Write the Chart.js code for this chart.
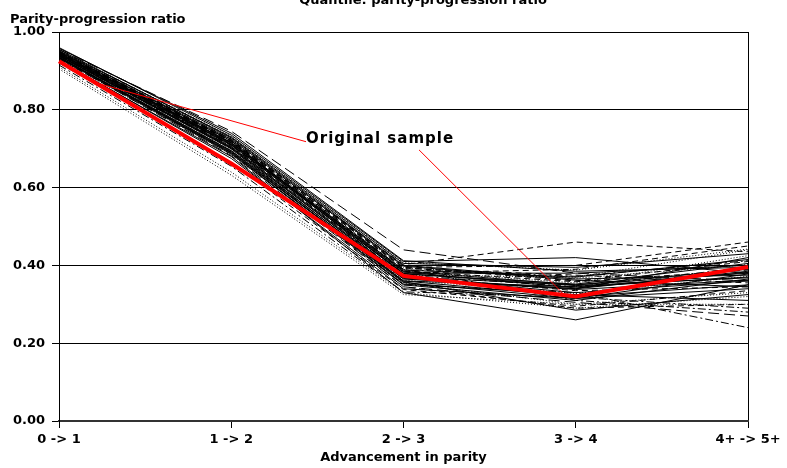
<!DOCTYPE html>
<html>
<head>
<meta charset="utf-8">
<script src="https://cdn.jsdelivr.net/npm/chart.js@4/dist/chart.umd.min.js"></script>
<style>
html,body{margin:0;padding:0;background:#fff;}
#wrap{width:787px;height:468px;}
</style>
</head>
<body>
<div id="wrap"><canvas id="c" width="787" height="468"></canvas></div>
<script>
// ---- data ----
const categories = ["0 -> 1", "1 -> 2", "2 -> 3", "3 -> 4", "4+ -> 5+"];
const yTicks = [0, 0.2, 0.4, 0.6, 0.8, 1.0];
const originalSample = [0.925, 0.662, 0.373, 0.320, 0.396];

const s01 = [0.945, 0.715, 0.385, 0.350, 0.380];
const s02 = [0.940, 0.705, 0.370, 0.330, 0.360];
const s03 = [0.950, 0.725, 0.395, 0.360, 0.410];
const s04 = [0.935, 0.690, 0.360, 0.320, 0.350];
const s05 = [0.930, 0.685, 0.355, 0.300, 0.330];
const s06 = [0.955, 0.745, 0.440, 0.380, 0.360];
const s07 = [0.945, 0.720, 0.402, 0.460, 0.435];
const s08 = [0.925, 0.680, 0.330, 0.260, 0.350];
const s09 = [0.940, 0.700, 0.350, 0.330, 0.240];
const s10 = [0.910, 0.640, 0.330, 0.290, 0.320];
const s11 = [0.905, 0.632, 0.325, 0.300, 0.300];
const s12 = [0.960, 0.735, 0.410, 0.420, 0.380];
const s13 = [0.950, 0.710, 0.380, 0.390, 0.450];
const s14 = [0.945, 0.700, 0.375, 0.370, 0.440];
const s15 = [0.935, 0.695, 0.365, 0.340, 0.420];
const s16 = [0.940, 0.710, 0.390, 0.310, 0.280];
const s17 = [0.930, 0.690, 0.345, 0.290, 0.300];
const s18 = [0.945, 0.715, 0.380, 0.380, 0.400];
const s19 = [0.950, 0.720, 0.370, 0.350, 0.390];
const s20 = [0.938, 0.700, 0.360, 0.345, 0.370];
const s21 = [0.942, 0.708, 0.372, 0.335, 0.345];
const s22 = [0.928, 0.675, 0.340, 0.315, 0.340];
const s23 = [0.948, 0.718, 0.395, 0.400, 0.460];
const s24 = [0.935, 0.688, 0.352, 0.325, 0.310];
const s25 = [0.955, 0.728, 0.400, 0.365, 0.375];
const s26 = [0.932, 0.682, 0.345, 0.305, 0.270];
const s27 = [0.944, 0.712, 0.385, 0.355, 0.425];
const s28 = [0.939, 0.702, 0.368, 0.340, 0.385];
const s29 = [0.946, 0.722, 0.392, 0.375, 0.355];
const s30 = [0.936, 0.694, 0.358, 0.285, 0.325];
const s31 = [0.952, 0.730, 0.405, 0.395, 0.430];
const s32 = [0.941, 0.706, 0.375, 0.345, 0.395];
const s33 = [0.933, 0.686, 0.350, 0.310, 0.365];
const s34 = [0.947, 0.716, 0.388, 0.370, 0.415];
const s35 = [0.920, 0.665, 0.338, 0.295, 0.335];
const s36 = [0.958, 0.740, 0.412, 0.385, 0.395];
const s37 = [0.937, 0.698, 0.362, 0.328, 0.372];
const s38 = [0.943, 0.711, 0.378, 0.352, 0.405];
const s39 = [0.915, 0.655, 0.332, 0.318, 0.290];
const s40 = [0.949, 0.724, 0.398, 0.362, 0.345];
const s41 = [0.944, 0.713, 0.383, 0.342, 0.382];
const s42 = [0.951, 0.727, 0.394, 0.367, 0.402];
const s43 = [0.939, 0.703, 0.366, 0.338, 0.362];
const s44 = [0.946, 0.719, 0.386, 0.358, 0.388];
const s45 = [0.953, 0.732, 0.407, 0.388, 0.442];
const s46 = [0.934, 0.692, 0.356, 0.315, 0.378];
const s47 = [0.942, 0.709, 0.379, 0.348, 0.368];
const s48 = [0.948, 0.721, 0.389, 0.372, 0.412];

const bootstrapSeries = [s01,s02,s03,s04,s05,s06,s07,s08,s09,s10,s11,s12,s13,s14,s15,s16,s17,s18,s19,s20,
                         s21,s22,s23,s24,s25,s26,s27,s28,s29,s30,s31,s32,s33,s34,s35,s36,s37,s38,s39,s40,
                         s41,s42,s43,s44,s45,s46,s47,s48];
// line style per bootstrap series: 0 solid, 1 dashed, 2 dotted, 3 dash-dot, 4 long dash
const seriesStyle = [0,0,1,0,2,4,1,0,3,2,2,0,1,2,0,3,1,0,0,0,
                     1,0,1,0,0,4,2,0,1,0,0,3,0,0,1,0,2,0,3,0,
                     0,2,0,1,2,0,0,3];

// callout: label anchor and pointer lines, in data units (category index, value)
const calloutLabel = "Original sample";
const calloutText = [1.434, 0.725];
const calloutLine1 = [[1.434, 0.718], [0.209, 0.870]];
const calloutLine2 = [[2.09, 0.697], [2.93, 0.326]];

// ---- chart ----
const dashes = [[], [6,4], [1,2], [8,3,2,3], [11,5]];
const FONT = "'DejaVu Sans', sans-serif";

const datasets = [{
  label: "Original sample",
  data: originalSample,
  borderColor: "#ff0000",
  borderWidth: 4,
  pointRadius: 0,
  tension: 0,
  order: -1
}];
bootstrapSeries.forEach((s, i) => {
  datasets.push({
    label: "q" + (i + 1),
    data: s,
    borderColor: "#000",
    borderWidth: 1,
    borderDash: dashes[seriesStyle[i]],
    pointRadius: 0,
    tension: 0,
    order: 0
  });
});

const textPlugin = {
  id: "texts",
  afterDatasetsDraw(chart) {
    const ctx = chart.ctx;
    const xs = chart.scales.x, ys = chart.scales.y;
    const ca = chart.chartArea;
    ctx.save();
    // callout lines
    ctx.strokeStyle = "#ff0000";
    ctx.lineWidth = 1;
    [calloutLine1, calloutLine2].forEach(l => {
      ctx.beginPath();
      ctx.moveTo(xs.getPixelForValue(l[0][0]), ys.getPixelForValue(l[0][1]));
      ctx.lineTo(xs.getPixelForValue(l[1][0]), ys.getPixelForValue(l[1][1]));
      ctx.stroke();
    });
    // callout label
    ctx.fillStyle = "#000";
    ctx.font = "bold 15px " + FONT;
    try { ctx.letterSpacing = "1px"; } catch (e) {}
    ctx.textAlign = "left";
    ctx.textBaseline = "middle";
    ctx.fillText(calloutLabel, xs.getPixelForValue(calloutText[0]), ys.getPixelForValue(calloutText[1]));
    try { ctx.letterSpacing = "0px"; } catch (e) {}
    // titles
    ctx.font = "bold 13px " + FONT;
    ctx.textAlign = "center";
    ctx.textBaseline = "alphabetic";
    ctx.fillText("Quantile: parity-progression ratio", 423, 4);
    ctx.textAlign = "left";
    ctx.fillText("Parity-progression ratio", 10, 23);
    ctx.textAlign = "center";
    ctx.fillText("Advancement in parity", (ca.left + ca.right) / 2, 461);
    ctx.restore();
  }
};

new Chart(document.getElementById("c"), {
  type: "line",
  data: { labels: categories, datasets },
  options: {
    responsive: false,
    animation: false,
    events: [],
    layout: { padding: { top: 32, right: 39, left: 0, bottom: 0 } },
    plugins: { legend: { display: false }, title: { display: false }, tooltip: { enabled: false } },
    scales: {
      x: {
        type: "category",
        offset: false,
        afterFit(scale) { scale.height = 47; },
        border: { display: true, color: "#333", width: 2 },
        grid: {
          drawOnChartArea: true,
          color: c => (c.index === categories.length - 1 ? "#000" : "rgba(0,0,0,0)"),
          tickColor: "#000",
          tickLength: 7,
          lineWidth: 1
        },
        ticks: {
          color: "#000",
          font: { family: FONT, size: 13, weight: "bold" },
          padding: 4,
          maxRotation: 0,
          autoSkip: false
        }
      },
      y: {
        min: 0,
        max: 1,
        afterFit(scale) { scale.width = 59; },
        afterBuildTicks(scale) { scale.ticks = yTicks.map(v => ({ value: v })); },
        border: { display: true, color: "#000", width: 1 },
        grid: {
          color: "#000",
          tickColor: "#000",
          tickLength: 7,
          lineWidth: 1
        },
        ticks: {
          color: "#000",
          font: { family: FONT, size: 13, weight: "bold" },
          padding: 7,
          callback: v => Number(v).toFixed(2)
        }
      }
    }
  },
  plugins: [textPlugin]
});
</script>
</body>
</html>
